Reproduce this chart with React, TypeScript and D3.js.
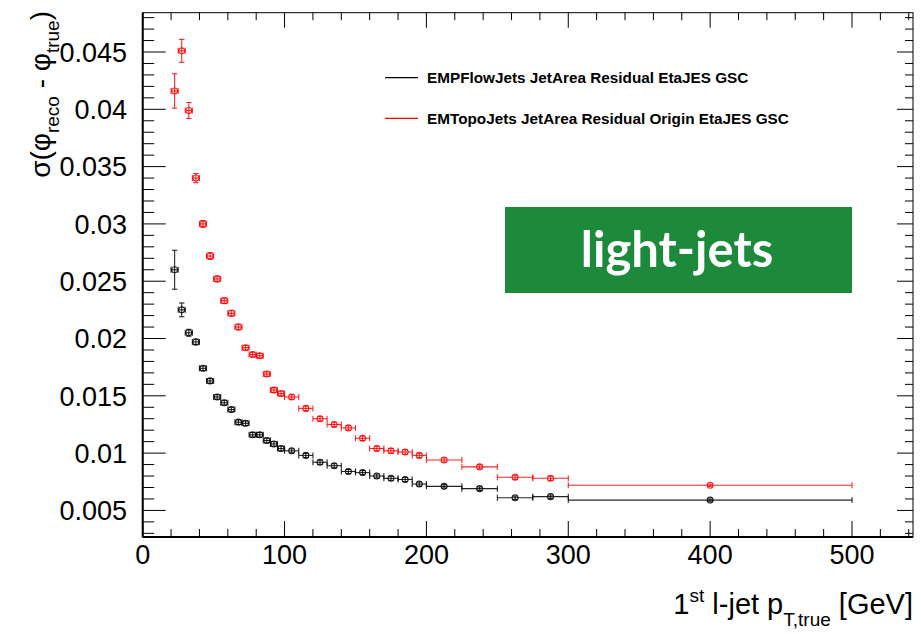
import React from "react";
import * as d3 from "d3";

// bins in p_T (GeV)
const binCenters = [
  22.5, 27.5, 32.5, 37.5, 42.5, 47.5, 52.5, 57.5, 62.5, 67.5, 72.5, 77.5, 82.5, 87.5, 92.5, 97.5,
  105, 115, 125, 135, 145, 155, 165, 175, 185, 195,
  212.5, 237.5, 262.5, 287.5, 400,
];
const binHalfWidths = [
  2.5, 2.5, 2.5, 2.5, 2.5, 2.5, 2.5, 2.5, 2.5, 2.5, 2.5, 2.5, 2.5, 2.5, 2.5, 2.5,
  5, 5, 5, 5, 5, 5, 5, 5, 5, 5,
  12.5, 12.5, 12.5, 12.5, 100,
];

const pflowValues = [
  0.026, 0.0225, 0.0205, 0.0197, 0.0174, 0.0163, 0.0149, 0.0144, 0.0138, 0.0127, 0.0126, 0.0116, 0.0116, 0.0111, 0.0108, 0.0104,
  0.0102, 0.0098, 0.0092, 0.0089, 0.0084, 0.0083, 0.008, 0.0078, 0.0077, 0.0073,
  0.0071, 0.0069, 0.0061, 0.0062, 0.0059,
];
const pflowErrors = [
  0.0017, 0.0006, 0.0003, 0.00025, 0.0002, 0.0002, 0.0002, 0.0002, 0.0002, 0.0002, 0.0002, 0.0002, 0.0002, 0.0002, 0.0002, 0.0002,
  0.00018, 0.00018, 0.00018, 0.00018, 0.00018, 0.00018, 0.00018, 0.00018, 0.00018, 0.00018,
  0.00015, 0.00015, 0.00015, 0.00015, 0.0001,
];

const topoValues = [
  0.0416, 0.0451, 0.0399, 0.034, 0.03, 0.0272, 0.0252, 0.0233, 0.0222, 0.021, 0.0192, 0.0186, 0.0185, 0.0169, 0.0155, 0.0152,
  0.0149, 0.0139, 0.013, 0.0125, 0.0122, 0.0113, 0.0104, 0.0102, 0.0101, 0.0098,
  0.0094, 0.0088, 0.0079, 0.0078, 0.0072,
];
const topoErrors = [
  0.0015, 0.001, 0.0007, 0.0004, 0.0003, 0.0003, 0.00025, 0.00025, 0.00025, 0.00025, 0.0002, 0.0002, 0.0002, 0.0002, 0.0002, 0.0002,
  0.0002, 0.0002, 0.0002, 0.0002, 0.0002, 0.0002, 0.0002, 0.0002, 0.0002, 0.0002,
  0.00018, 0.00018, 0.00018, 0.00018, 0.0001,
];

const seriesNames = [
  "EMPFlowJets JetArea Residual EtaJES GSC",
  "EMTopoJets JetArea Residual Origin EtaJES GSC",
];
const seriesColors = ["#000000", "#ff0000"];

const xMajorTicks = [0, 100, 200, 300, 400, 500];
const yMajorTicks = [0.005, 0.01, 0.015, 0.02, 0.025, 0.03, 0.035, 0.04, 0.045];
const yTickLabels = ["0.005", "0.01", "0.015", "0.02", "0.025", "0.03", "0.035", "0.04", "0.045"];

const width = 921;
const height = 634;
const frame = { left: 142.7, right: 913, top: 12.7, bottom: 537 };
const font = "'Liberation Sans', Arial, Helvetica, sans-serif";

function Series({ values, errors, color, x, y }) {
  return (
    <g stroke={color} fill="none" strokeWidth={1.1} strokeOpacity={0.85}>
      {values.map((v, i) => {
        const cx = x(binCenters[i]);
        const cy = y(v);
        const x1 = x(binCenters[i] - binHalfWidths[i]);
        const x2 = x(binCenters[i] + binHalfWidths[i]);
        const y1 = y(v + errors[i]);
        const y2 = y(v - errors[i]);
        return (
          <g key={i}>
            <line x1={x1} x2={x2} y1={cy} y2={cy} />
            <line x1={x1} x2={x1} y1={cy - 3} y2={cy + 3} />
            <line x1={x2} x2={x2} y1={cy - 3} y2={cy + 3} />
            <line x1={cx} x2={cx} y1={y1} y2={y2} />
            <line x1={cx - 2.7} x2={cx + 2.7} y1={y1} y2={y1} />
            <line x1={cx - 2.7} x2={cx + 2.7} y1={y2} y2={y2} />
            <circle cx={cx} cy={cy} r={3} />
          </g>
        );
      })}
    </g>
  );
}

export default function App() {
  const x = d3.scaleLinear().domain([0, 543]).range([frame.left, frame.right]);
  const y = d3.scaleLinear().domain([0.00268, 0.04843]).range([frame.bottom, frame.top]);

  const xMinor = d3.range(0, 541, 20);
  const yMinor = d3.range(3, 49, 1).map((d) => d / 1000);

  return (
    <svg
      width={width}
      height={height}
      style={{ position: "absolute", left: 0, top: 0, background: "white" }}
      fontFamily={font}
    >
      {/* frame */}
      <rect
        x={frame.left}
        y={frame.top}
        width={frame.right - frame.left}
        height={frame.bottom - frame.top}
        fill="none"
        stroke="black"
        strokeWidth={1}
      />
      <line x1={frame.left} x2={frame.left} y1={frame.top} y2={frame.bottom} stroke="black" strokeWidth={2} />
      <line x1={frame.left} x2={frame.right} y1={frame.bottom} y2={frame.bottom} stroke="black" strokeWidth={2} />

      {/* x ticks, bottom and top */}
      <g stroke="black" strokeWidth={1}>
        {xMinor.map((t) => {
          const major = t % 100 === 0;
          return (
            <g key={t}>
              <line x1={x(t)} x2={x(t)} y1={frame.bottom} y2={frame.bottom - (major ? 16 : 8)} />
              <line x1={x(t)} x2={x(t)} y1={frame.top} y2={frame.top + (major ? 15 : 7.5)} />
            </g>
          );
        })}
      </g>
      {/* y ticks, left and right */}
      <g stroke="black" strokeWidth={1}>
        {yMinor.map((t, i) => {
          const major = Math.round(t * 1000) % 5 === 0;
          return (
            <g key={i}>
              <line x1={frame.left} x2={frame.left + (major ? 23 : 11.5)} y1={y(t)} y2={y(t)} />
              <line x1={frame.right} x2={frame.right - (major ? 16 : 8)} y1={y(t)} y2={y(t)} />
            </g>
          );
        })}
      </g>

      {/* tick labels */}
      <g fontSize={27} fill="black">
        {xMajorTicks.map((t) => (
          <text key={t} x={x(t)} y={frame.bottom + 27} textAnchor="middle">
            {t}
          </text>
        ))}
        {yMajorTicks.map((t, i) => (
          <text key={t} x={127} y={y(t)} dy="0.36em" textAnchor="end">
            {yTickLabels[i]}
          </text>
        ))}
      </g>

      {/* axis titles */}
      <text x={913} y={614} textAnchor="end" fontSize={29}>
        1<tspan fontSize={19} dy={-12}>st</tspan>
        <tspan dy={12}> l-jet p</tspan>
        <tspan fontSize={19} dy={12}>T,true</tspan>
        <tspan dy={-12}> [GeV]</tspan>
      </text>
      <text transform="translate(50,11) rotate(-90)" textAnchor="end" fontSize={28}>
        σ(φ<tspan fontSize={19} dy={9}>reco</tspan>
        <tspan dy={-9}> - φ</tspan>
        <tspan fontSize={19} dy={9}>true</tspan>
        <tspan dy={-9}>)</tspan>
      </text>

      {/* data */}
      <Series values={pflowValues} errors={pflowErrors} color={seriesColors[0]} x={x} y={y} />
      <Series values={topoValues} errors={topoErrors} color={seriesColors[1]} x={x} y={y} />

      {/* legend */}
      {seriesNames.map((name, i) => {
        const ly = 77.7 + i * 40.6;
        return (
          <g key={name}>
            <line x1={385} x2={418} y1={ly} y2={ly} stroke={seriesColors[i]} strokeWidth={1.3} />
            <text x={427} y={ly + 5.5} fontSize={15.3} fontWeight="bold" fill="black">
              {name}
            </text>
          </g>
        );
      })}

      {/* label box */}
      <rect x={505} y={207} width={347} height={86} fill="#1c8a3a" />
      <text
        x={677}
        y={267}
        textAnchor="middle"
        fontSize={49}
        fontWeight="bold"
        fill="white"
        fontFamily="Lato, 'Open Sans', sans-serif"
      >
        light-jets
      </text>
    </svg>
  );
}
